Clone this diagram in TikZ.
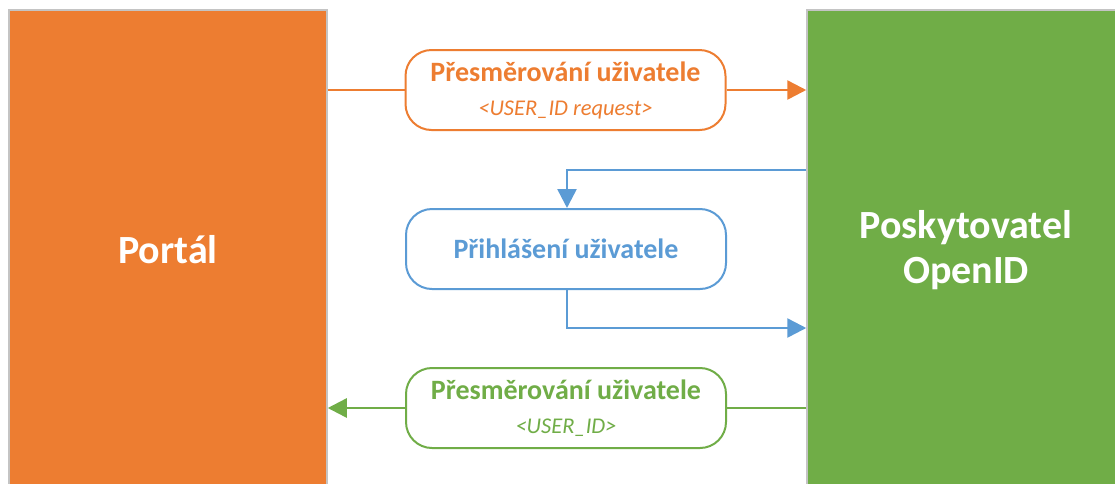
\documentclass[tikz,border=0pt]{standalone}
\usepackage{fontspec}
\setmainfont{Carlito}
\usetikzlibrary{arrows.meta}
\definecolor{porange}{HTML}{ED7D31}
\definecolor{pgreen}{HTML}{70AD47}
\definecolor{pblue}{HTML}{5B9BD5}
\definecolor{pborder}{HTML}{C4C4C4}
\tikzset{
  party/.style={rectangle, draw=pborder, line width=1.5pt, text=white,
    font=\bfseries\fontsize{40}{45}\selectfont, align=center,
    minimum width=318pt, minimum height=480pt, inner sep=0pt},
  msgbox/.style={rectangle, rounded corners=26pt, draw=#1, fill=white,
    line width=2pt, text=#1, align=center,
    font=\fontsize{28}{34}\selectfont,
    minimum width=320pt, minimum height=80pt, inner sep=0pt},
  flow/.style={draw=#1, line width=2.5pt, -{Triangle[length=19pt,width=19pt]}},
  plain/.style={draw=#1, line width=2.5pt},
}
\newcommand{\msgtitle}{\bfseries\fontsize{28}{34}\selectfont}
\newcommand{\msgsub}{\mdseries\itshape\fontsize{22.5}{34}\selectfont}
\begin{document}
\begin{tikzpicture}[x=1pt,y=-1pt]
  \useasboundingbox (0,0) rectangle (1115,483);
  \clip (0,0) rectangle (1115,483);
  \fill[white] (0,0) rectangle (1115,483);

  % the two parties
  \node[party, fill=porange] (portal) at (168,250) {Portál};
  \node[party, fill=pgreen] (openid) at (966,250) {Poskytovatel\\OpenID};

  % message boxes
  \node[msgbox=porange] (req) at (565.5,90)
    {\msgtitle Přesměrování uživatele\\\msgsub <USER\_ID request>};
  \node[msgbox=pblue] (login) at (566,249)
    {\msgtitle Přihlášení uživatele};
  \node[msgbox=pgreen] (resp) at (566,408)
    {\msgtitle Přesměrování uživatele\\\msgsub <USER\_ID>};

  % request: portal -> provider
  \draw[plain=porange] (req.west -| portal.east) -- (req.west);
  \draw[flow=porange] (req.east) -- (req.east -| openid.west);

  % login loop at the provider
  \coordinate (lin) at (567,170);
  \coordinate (lout) at (567,328);
  \draw[flow=pblue] (lin -| openid.west) -- (lin) -- (lin |- login.north);
  \draw[flow=pblue] (lout |- login.south) -- (lout) -- (lout -| openid.west);

  % response: provider -> portal
  \draw[plain=pgreen] (resp.east -| openid.west) -- (resp.east);
  \draw[flow=pgreen] (resp.west) -- (resp.west -| portal.east);
\end{tikzpicture}
\end{document}
